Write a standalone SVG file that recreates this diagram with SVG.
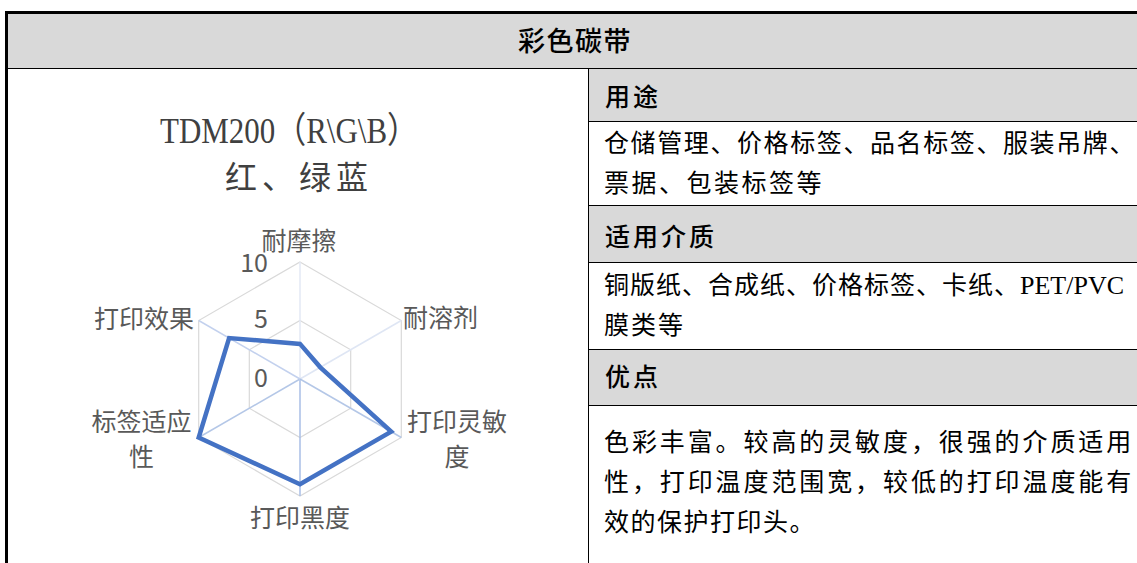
<svg xmlns="http://www.w3.org/2000/svg" width="1137" height="563" viewBox="0 0 1137 563">
<style>
  .gray { fill: #d9d9d9; }
  .line { stroke: #000; stroke-width: 1; fill: none; }
  .thick { stroke: #000; stroke-width: 3; fill: none; }
  .hdr { font-family: "Noto Sans CJK SC", sans-serif; font-size: 25px; font-weight: 500; fill: #000; letter-spacing: 3px; }
  .body { font-family: "Liberation Serif", "Noto Sans CJK SC", serif; font-size: 25px; fill: #000; }
  .lat { font-family: "Liberation Serif", serif; font-size: 26px; letter-spacing: 0px; }
  .lbl { font-family: "Noto Sans CJK SC", sans-serif; font-size: 25px; fill: #595959; }
  .grid { stroke: #d9d9d9; stroke-width: 1.2; fill: none; }
</style>

<g id="table-frame">
  <rect class="gray" x="8" y="14" width="1129" height="54"/>
  <rect class="gray" x="588" y="68" width="549" height="53"/>
  <rect class="gray" x="588" y="205" width="549" height="57"/>
  <rect class="gray" x="588" y="349" width="549" height="56"/>
  <line class="thick" x1="5" y1="12.5" x2="1137" y2="12.5"/>
  <line class="thick" x1="6.5" y1="11" x2="6.5" y2="563"/>
  <line class="line" x1="8" y1="68.5" x2="1137" y2="68.5"/>
  <line class="line" x1="588.5" y1="68" x2="588.5" y2="563"/>
  <line class="line" x1="588" y1="121.5" x2="1137" y2="121.5"/>
  <line class="line" x1="588" y1="205.5" x2="1137" y2="205.5"/>
  <line class="line" x1="588" y1="262.5" x2="1137" y2="262.5"/>
  <line class="line" x1="588" y1="349.5" x2="1137" y2="349.5"/>
  <line class="line" x1="588" y1="405.5" x2="1137" y2="405.5"/>
</g>

<g id="title">
  <text class="hdr" x="518" y="51" style="font-size:27px;letter-spacing:1.5px">彩色碳带</text>
</g>

<g id="usage">
  <text class="hdr" x="605" y="106">用途</text>
  <text class="body" x="604" y="152" letter-spacing="1.6">仓储管理、价格标签、品名标签、服装吊牌、</text>
  <text class="body" x="604" y="192" letter-spacing="2.5">票据、包装标签等</text>
</g>

<g id="media">
  <text class="hdr" x="605" y="246">适用介质</text>
  <text class="body" x="604" y="294" letter-spacing="1">铜版纸、合成纸、价格标签、卡纸、<tspan class="lat">PET/PVC</tspan></text>
  <text class="body" x="604" y="334" letter-spacing="2">膜类等</text>
</g>

<g id="advantages">
  <text class="hdr" x="605" y="386">优点</text>
  <text class="body" x="604" y="451" letter-spacing="2.9">色彩丰富。较高的灵敏度，很强的介质适用</text>
  <text class="body" x="604" y="491" letter-spacing="2.9">性，打印温度范围宽，较低的打印温度能有</text>
  <text class="body" x="604" y="531" letter-spacing="1.5">效的保护打印头。</text>
</g>

<g id="chart">
  <text x="160" y="143" textLength="258" lengthAdjust="spacingAndGlyphs" style="font-family:'Liberation Serif','Noto Sans CJK SC',serif;font-size:36px;fill:#404040">TDM200（R\G\B）</text>
  <text x="225" y="189" style="font-family:'Noto Sans CJK SC',sans-serif;font-size:32px;fill:#404040;letter-spacing:5px">红、绿蓝</text>

  <polygon class="grid" points="300,262 401.3,320.5 401.3,437.5 300,496 198.7,437.5 198.7,320.5"/>
  <polygon class="grid" points="300,320.5 350.7,349.75 350.7,408.25 300,437.5 249.3,408.25 249.3,349.75"/>
  <line x1="300" y1="379" x2="300" y2="262" stroke="#e3e9f5" stroke-width="1.5"/>
  <line x1="300" y1="379" x2="401.3" y2="320.5" stroke="#dfe6f4" stroke-width="1.5"/>
  <line x1="300" y1="379" x2="401.3" y2="437.5" stroke="#b4c7e7" stroke-width="1.5"/>
  <line x1="300" y1="379" x2="300" y2="496" stroke="#a8bee6" stroke-width="1.5"/>
  <line x1="300" y1="379" x2="198.7" y2="437.5" stroke="#b4c7e7" stroke-width="1.5"/>
  <line x1="300" y1="379" x2="198.7" y2="320.5" stroke="#c3d1ee" stroke-width="1.5"/>

  <polygon points="300,343.9 320.3,367.3 391.2,431.65 300,484.3 198.7,437.5 229.1,338.05" fill="none" stroke="#4472c4" stroke-width="4.5" stroke-linejoin="miter"/>

  <text class="lbl" x="299" y="250" text-anchor="middle">耐摩擦</text>
  <text class="lbl" x="268" y="272" text-anchor="end">10</text>
  <text class="lbl" x="268" y="328" text-anchor="end">5</text>
  <text class="lbl" x="268" y="387" text-anchor="end">0</text>
  <text class="lbl" x="403" y="327">耐溶剂</text>
  <text class="lbl" x="194" y="328" text-anchor="end">打印效果</text>
  <text class="lbl" x="457" y="431" text-anchor="middle">打印灵敏</text>
  <text class="lbl" x="457" y="466" text-anchor="middle">度</text>
  <text class="lbl" x="141.5" y="431" text-anchor="middle">标签适应</text>
  <text class="lbl" x="141.5" y="466" text-anchor="middle">性</text>
  <text class="lbl" x="300" y="527" text-anchor="middle">打印黑度</text>
</g>
</svg>
